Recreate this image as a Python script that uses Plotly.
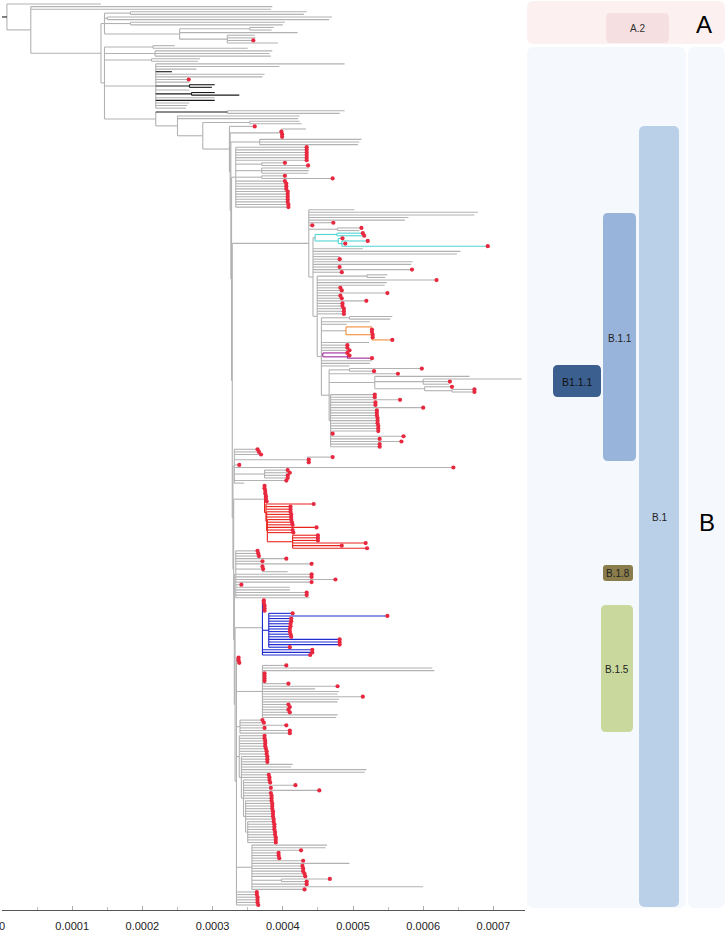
import plotly.graph_objects as go

# ---------------- DATA ----------------
# Phylogeny in a compact Newick-like notation.
# The number after each node is its distance from the root in units of 1e-6 substitutions/site.
# 'r' marks a tip with a red dot; '#X' colours a subtree, '!X' subtree + stem, '^X' stem only.
CLADE_A2 = "((434,430)183,(470,466)150,(403,400)183,((387,384)353,421,(360,361,358r,393)321)253)146"

GRAY_TIPS = ("(246,350)215,(385,381,383)218,(282,279)213,"
             "(488,395,277,242!K,374,371,266r,267,(303,299)267!K,267,(303,338)270!K,303,303!K,267,264,262)219")

B_UPPER_0 = "360r"
B_UPPER_1 = "(433,398r,399r,399r)398"
B_UPPER_2 = "(512,509,507)367"
B_UPPER_3 = ("(434r,434r,434r,434r,434r,434r,(403r,436r)370,(438,437,436)370,(403r,471r)370,"
             "403r,405r,405r,405r,407r,407r,407r,407r,407r,408r,408r)333")

B11 = ("(502,678,673,579,574,472r,442r,(512r,509)478,"
       "(((514r,516r)477,(485r,(521r,489r,692r)484)479)446#C,"
       "514,653,648,481,481r,585,583,481r,584r,484r,"
       "((549,546)520,619r,548,545,482r,484r,549r,482r,484r,519r,485r,485r,487r,487r,487r,"
       "((556,553)495,524,491,(527,(527r,527r,528r,528r,556r)527)490#O,523,492r,492r,495r,"
       "(492r,(495r,527r)492)457#P,527,524,495,"
       "((598r,530r)495,564r,(666,(740,638r,637)600,(641r,(673r,673r)641)602)531,"
       "(531r,531r,567r,532r,532r,600r,534r,534r,534r,535r,535r,535r,536r,536r,536r,471r,572r,538r,569r,538r,538r"
       ")468)466)455)449)443)437")

B3 = "(364r,366r,369r,(471r,437r,437r)435,338r,643r,(407r,410r,407r,407r)374,405r,345)331"

RED_CLADE = ("(374r,374r,375r,375r,376r,376r,377r,(444r,411r,411r,(411r,412r,412r,"
             "(412r,413r,414r,448r,414r,415r,(450r,450r,450r,518r,484r,520r)414)378)377)376)374#R")

B5 = "(364r,365r,366r,405r,371r,441r,(371r,372r,407)371,441r,441r,475r,441r,341r,410,410,434r,434r,438)333"

BLUE_CLADE = ("(373r,373r,374r,374r,374r,(414r,549r,412r,412r,411r,411r,410r,410r,411r,412r,"
              "481r,481r,481r,410r)380,442r,442r,439r)371#B")

BOTTOM = ("(337r,337r,338r,"
          "(405r,613,616,374r,374r,374r,374r,408r,478r,446,480,478,514r,480,478,408r,410r,408r,410r,478,476)371,"
          "(371r,373r,405r,374r,410r,410r)339,"
          "(374r,374r,375r,375r,375r,376r,377r,377r,(378r,378r,378r,414,412,519,517,380r,381r,"
          "(381r,382r,418r,383r,452r,383r,384r,384r,(384r,385r,385r,385r,386r,386r,386r,387r,"
          "(387r,388r,388r,388r,389r,389r,390r,390r,390r)350)347)344)341)338,"
          "(463,461,426r,394r,394r,395r,429r,495,428r,429r,429r,431r,432r,(467r,434r)398,434r,600,431r)356,"
          "363r,363r,364r,364r,364r,365r)334")

# clade B backbone: successive (ladderised) nodes and their depths (1e-6 subs/site)
B_CHILDREN = [B_UPPER_0, B_UPPER_1, B_UPPER_2, B_UPPER_3, B11, B3, RED_CLADE, B5, BLUE_CLADE, BOTTOM]
B_BACKBONE = [324, 325, 326, 327, 328, 329, 330, 331, 332]

UNIT = 1e-6
TICK_VALUES = [0, 0.0001, 0.0002, 0.0003, 0.0004, 0.0005, 0.0006, 0.0007]
TICK_LABELS = ["0", "0.0001", "0.0002", "0.0003", "0.0004", "0.0005", "0.0006", "0.0007"]

LINEAGE_LABELS = ["A.2", "A", "B", "B.1", "B.1.1", "B1.1.1", "B.1.8", "B.1.5"]


def ladder(children, depths):
    s = children[-1]
    for c, d in reversed(list(zip(children[:-1], depths))):
        s = f"({c},{s}){d}"
    return s


CLADE_B = ladder(B_CHILDREN, B_BACKBONE)
STEM_TO_B = "(488,481)321^K,(424,422,((424,427)353," + CLADE_B + ")286)250"
GRAY_CLADE = "(" + GRAY_TIPS + ",(" + STEM_TO_B + ")219)146"
TREE = "(141,(385,383,(" + CLADE_A2 + "," + GRAY_CLADE + ")141)41)7"

# ---------------- STYLE / LAYOUT ----------------
COLORS = {"G": "#b2b2b2", "K": "#1a1a1a", "R": "#e8231c", "B": "#1f2bd0",
          "C": "#52d4d4", "O": "#f28c38", "P": "#a0269a"}
DOT = "#e8283f"
W, H = 727, 931
ML, MB, MT = 2, 21, 0
PW, PH = W - ML, H - MT - MB
AX_END = 525


def parse(s):
    s = "".join(s.split())
    pos = 0

    def node():
        nonlocal pos
        n = {"children": [], "red": False, "tag": None, "mode": None}
        if s[pos] == "(":
            pos += 1
            while True:
                n["children"].append(node())
                if s[pos] == ",":
                    pos += 1
                    continue
                if s[pos] == ")":
                    pos += 1
                    break
        j = pos
        while pos < len(s) and (s[pos].isdigit() or s[pos] == "."):
            pos += 1
        n["depth"] = float(s[j:pos]) * UNIT
        if pos < len(s) and s[pos] == "r":
            n["red"] = True
            pos += 1
        if pos < len(s) and s[pos] in "#!^":
            n["mode"] = s[pos]
            n["tag"] = s[pos + 1]
            pos += 2
        return n

    return node()


root = parse(TREE)
leaves = []


def assign(n):
    if not n["children"]:
        n["y"] = len(leaves)
        leaves.append(n)
    else:
        for c in n["children"]:
            assign(c)
        n["y"] = (n["children"][0]["y"] + n["children"][-1]["y"]) / 2


assign(root)
N = len(leaves)

segs = {k: ([], []) for k in COLORS}


def add(col, x0, y0, x1, y1):
    xs, ys = segs[col]
    xs += [x0, x1, None]
    ys += [y0, y1, None]


def draw(n, ctx):
    ch = n["children"]
    if not ch:
        return
    add(ctx, n["depth"], min(c["y"] for c in ch), n["depth"], max(c["y"] for c in ch))
    for c in ch:
        stem = c["tag"] if c["mode"] in ("!", "^") else ctx
        add(stem, n["depth"], c["y"], c["depth"], c["y"])
        draw(c, c["tag"] if c["mode"] in ("#", "!") else ctx)


add("K", 0, root["y"], root["depth"], root["y"])
draw(root, "G")

fig = go.Figure()
for k in ["G", "K", "R", "B", "C", "O", "P"]:
    xs, ys = segs[k]
    if xs:
        fig.add_trace(go.Scatter(x=xs, y=ys, mode="lines", hoverinfo="skip",
                                 line=dict(color=COLORS[k], width=1.1), showlegend=False))

rx = [l["depth"] for l in leaves if l["red"]]
ry = [l["y"] for l in leaves if l["red"]]
fig.add_trace(go.Scatter(x=rx, y=ry, mode="markers", showlegend=False, hoverinfo="skip",
                         marker=dict(color=DOT, size=4.2, line=dict(width=0))))

# y range: first tip at 4 px, last tip at 905 px from the top
S = (N - 1) * PH / 901.0
pt = 4 * S / PH
pb = S - (N - 1) - pt


def px2p(x, y):
    return (x - ML) / PW, 1 - (y - MT) / PH


def rrect(x0, y0, x1, y1, r):
    def P(x, y):
        a, b = px2p(x, y)
        return f"{a:.5f},{b:.5f}"
    return (f"M {P(x0 + r, y0)} L {P(x1 - r, y0)} Q {P(x1, y0)} {P(x1, y0 + r)} "
            f"L {P(x1, y1 - r)} Q {P(x1, y1)} {P(x1 - r, y1)} L {P(x0 + r, y1)} "
            f"Q {P(x0, y1)} {P(x0, y1 - r)} L {P(x0, y0 + r)} Q {P(x0, y0)} {P(x0 + r, y0)} Z")


PANELS = [
    (527, 1, 725, 44, "#fdf0f0", 7),
    (606, 13, 669, 43, "#f6dfe1", 5),
    (527, 47, 686, 908, "#f5f8fd", 7),
    (688, 47, 725, 908, "#f5f8fd", 7),
    (639, 126, 679, 907, "#bacfe8", 6),
    (603, 213, 636, 461, "#98b4db", 5),
    (553, 365, 601, 397, "#3b5f8f", 5),
    (603, 565, 633, 581, "#8b7d4b", 3),
    (601, 605, 633, 732, "#c9d99d", 5),
]
shapes = [dict(type="path", xref="paper", yref="paper", path=rrect(*p[:4], p[5]),
               fillcolor=p[4], line=dict(width=0), layer="below") for p in PANELS]

LABEL_POS = [(637, 29, 10, "#333"), (704, 24, 24, "#000"), (707, 522, 24, "#000"),
             (659, 517, 10, "#222"), (620, 338, 10, "#222"), (577, 382, 10.5, "#111"),
             (618, 573, 10, "#222"), (617, 669, 10, "#222")]
annotations = []
for txt, (x, y, fs, col) in zip(LINEAGE_LABELS, LABEL_POS):
    a, b = px2p(x, y)
    annotations.append(dict(x=a, y=b, xref="paper", yref="paper", text=txt, showarrow=False,
                            xanchor="center", yanchor="middle",
                            font=dict(size=fs, color=col, family="Liberation Sans, Arial, sans-serif")))

fig.update_layout(
    width=W, height=H, margin=dict(l=ML, r=0, t=MT, b=MB),
    paper_bgcolor="white", plot_bgcolor="white",
    shapes=shapes, annotations=annotations,
    xaxis=dict(domain=[0, (AX_END - ML) / PW], range=[0, (AX_END - ML) / 702000.0],
               showgrid=False, zeroline=False, showline=True, linecolor="#555", linewidth=1,
               tickvals=TICK_VALUES, ticktext=TICK_LABELS, ticks="inside", ticklen=4,
               tickcolor="#aaa", ticklabelstandoff=6, automargin=False, ticklabeloverflow="allow",
               minor=dict(ticks="inside", ticklen=3, dtick=0.00005, tickcolor="#bbb"),
               tickfont=dict(size=11, color="#222", family="Liberation Sans, Arial, sans-serif")),
    yaxis=dict(range=[N - 1 + pb, -pt], visible=False, showgrid=False, zeroline=False),
)

fig.write_html("out.html", config={"displayModeBar": False},
               post_script="document.body.style.margin='0';")
